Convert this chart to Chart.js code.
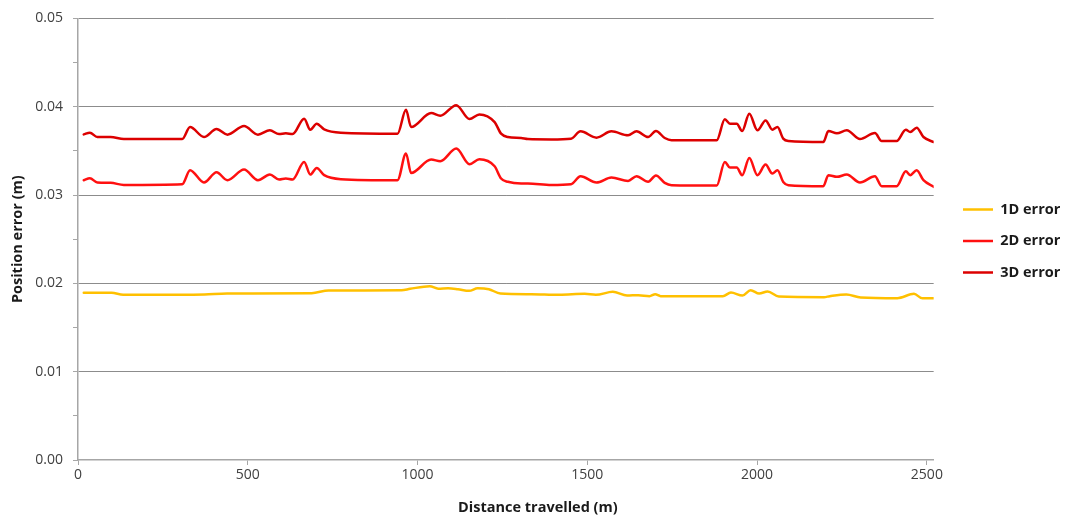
<!DOCTYPE html>
<html>
<head>
<meta charset="utf-8">
<script src="https://cdn.jsdelivr.net/npm/chart.js@4"></script>
<style>
  html, body { margin: 0; padding: 0; background: #ffffff; }
  #wrap { width: 1065px; height: 520px; }
</style>
</head>
<body>
<div id="wrap"><canvas id="c" width="1065" height="520"></canvas></div>
<script>
// ---- data ----
const seriesNames = ['1D error', '2D error', '3D error'];

const dist1D = [17, 99, 133, 307, 373, 439, 688, 738, 953, 978, 1036, 1061, 1090, 1119, 1152, 1177, 1210, 1244, 1335, 1418, 1492, 1525, 1575, 1617, 1650, 1683, 1700, 1716, 1899, 1923, 1957, 1981, 2006, 2031, 2064, 2197, 2214, 2263, 2305, 2413, 2462, 2487, 2520];
const err1D = [0.01893, 0.01893, 0.0187, 0.0187, 0.01874, 0.01885, 0.01889, 0.01919, 0.01922, 0.01938, 0.01968, 0.0194, 0.01945, 0.01934, 0.01915, 0.01945, 0.01934, 0.01885, 0.01877, 0.0187, 0.01881, 0.0187, 0.01904, 0.01862, 0.01866, 0.01855, 0.01877, 0.01855, 0.01855, 0.01896, 0.01862, 0.01923, 0.01885, 0.01908, 0.01851, 0.01844, 0.01855, 0.01874, 0.0184, 0.01832, 0.01881, 0.0183, 0.0183];

const dist2D3D = [17, 35, 57, 96, 135, 307, 330, 371, 408, 440, 489, 530, 565, 592, 612, 632, 666, 684, 703, 725, 774, 941, 966, 981, 1040, 1067, 1114, 1153, 1182, 1227, 1246, 1266, 1305, 1325, 1394, 1452, 1480, 1527, 1571, 1620, 1645, 1679, 1702, 1728, 1748, 1881, 1905, 1920, 1940, 1956, 1977, 2001, 2025, 2045, 2060, 2077, 2092, 2195, 2210, 2235, 2264, 2303, 2347, 2367, 2411, 2438, 2451, 2470, 2490, 2520];
const err2D = [0.03168, 0.03191, 0.03142, 0.03138, 0.03115, 0.03123, 0.03281, 0.03142, 0.03258, 0.03168, 0.03289, 0.03168, 0.03232, 0.03176, 0.03187, 0.03176, 0.03375, 0.03232, 0.03307, 0.03225, 0.0318, 0.03168, 0.0347, 0.0325, 0.03402, 0.03383, 0.03526, 0.03349, 0.03405, 0.03326, 0.03187, 0.0315, 0.03131, 0.03131, 0.03115, 0.03123, 0.03213, 0.03142, 0.03198, 0.0316, 0.03213, 0.0315, 0.03221, 0.03138, 0.03112, 0.03108, 0.03375, 0.03311, 0.03311, 0.03225, 0.0342, 0.03225, 0.03345, 0.03243, 0.03281, 0.03149, 0.03112, 0.031, 0.03225, 0.03206, 0.03232, 0.03142, 0.03213, 0.031, 0.031, 0.0327, 0.03225, 0.03281, 0.03168, 0.03093];
const err3D = [0.03687, 0.03706, 0.03657, 0.03657, 0.03634, 0.03634, 0.0377, 0.03657, 0.03747, 0.03684, 0.03781, 0.03684, 0.03733, 0.0369, 0.037, 0.0369, 0.03864, 0.0374, 0.03808, 0.03744, 0.03706, 0.03695, 0.03966, 0.0377, 0.03928, 0.03898, 0.04018, 0.0386, 0.03913, 0.03826, 0.03695, 0.03657, 0.03646, 0.03634, 0.0363, 0.03638, 0.03721, 0.0365, 0.03721, 0.03676, 0.03721, 0.03657, 0.03725, 0.03646, 0.0362, 0.0362, 0.03857, 0.03808, 0.03808, 0.03725, 0.03921, 0.03733, 0.03845, 0.0374, 0.0377, 0.03639, 0.03612, 0.036, 0.03725, 0.03699, 0.03733, 0.03634, 0.03702, 0.03612, 0.03612, 0.0374, 0.03713, 0.03763, 0.03657, 0.036];

const xTickValues = [0, 500, 1000, 1500, 2000, 2500];
const yTickValues = [0, 0.005, 0.01, 0.015, 0.02, 0.025, 0.03, 0.035, 0.04, 0.045, 0.05];
const yTickLabels = ['0.00', '', '0.01', '', '0.02', '', '0.03', '', '0.04', '', '0.05'];
const xTitle = 'Distance travelled (m)';
const yTitle = 'Position error (m)';

// ---- styling / layout ----
const FONT = "'Open Sans', 'DejaVu Sans', sans-serif";
Chart.defaults.font.family = FONT;
const toPts = (xs, ys) => xs.map((x, i) => ({ x: x, y: ys[i] }));
const LEGEND_LINE_X = 963;   // where the legend lines start
const LEGEND_Y_SHIFT = -28;  // legend block sits level with the plot centre
const X_TITLE_SHIFT = 32;    // the x title sits right of the plot centre in the reference

const shiftPlugin = {
  id: 'shiftPlugin',
  afterLayout(chart) {
    const lg = chart.legend;
    if (lg) {
      const d = LEGEND_LINE_X - (lg.left + lg.options.labels.padding);
      lg.left += d; lg.right += d;
      lg.top += LEGEND_Y_SHIFT; lg.bottom += LEGEND_Y_SHIFT;
    }
    const xs = chart.scales.x;
    if (xs && !xs._titleWrapped) {
      const orig = xs.drawTitle;
      xs.drawTitle = function () {
        this.ctx.save();
        this.ctx.translate(X_TITLE_SHIFT, 0);
        orig.apply(this, arguments);
        this.ctx.restore();
      };
      xs._titleWrapped = true;
    }
  }
};

new Chart(document.getElementById('c'), {
  type: 'line',
  data: {
    datasets: [
      { label: seriesNames[0], data: toPts(dist1D, err1D), borderColor: '#ffc000', backgroundColor: '#ffc000', borderWidth: 2.5 },
      { label: seriesNames[1], data: toPts(dist2D3D, err2D), borderColor: '#ff1010', backgroundColor: '#ff1010', borderWidth: 2.5 },
      { label: seriesNames[2], data: toPts(dist2D3D, err3D), borderColor: '#dc0000', backgroundColor: '#dc0000', borderWidth: 2.5 }
    ]
  },
  options: {
    responsive: false,
    animation: false,
    elements: {
      point: { radius: 0, hoverRadius: 0 },
      line: { cubicInterpolationMode: 'monotone', borderCapStyle: 'round', borderJoinStyle: 'round' }
    },
    layout: { padding: { top: 18, right: 7, bottom: 0, left: 0 } },
    plugins: {
      tooltip: { enabled: false },
      legend: {
        position: 'right',
        labels: {
          usePointStyle: true,
          pointStyle: 'line',
          pointStyleWidth: 30,
          padding: 17,
          color: '#1a1a1a',
          font: { family: FONT, size: 14.5, weight: 'bold' }
        }
      }
    },
    scales: {
      x: {
        type: 'linear',
        min: 0,
        max: 2520,
        afterBuildTicks: (s) => { s.ticks = xTickValues.map(v => ({ value: v })); },
        afterFit: (s) => { s.height = 60; },
        ticks: {
          autoSkip: false,
          maxRotation: 0,
          padding: 2,
          color: '#404040',
          font: { family: FONT, size: 14 },
          callback: (v) => String(v)
        },
        grid: { display: true, drawOnChartArea: false, drawTicks: true, tickLength: 5, tickColor: '#a6a6a6', tickWidth: 1 },
        border: { display: true, color: '#a6a6a6', width: 1.5 },
        title: { display: true, text: xTitle, color: '#1a1a1a', font: { family: FONT, size: 14.5, weight: 'bold' }, padding: { top: 4, bottom: 3 } }
      },
      y: {
        type: 'linear',
        min: 0,
        max: 0.05,
        afterBuildTicks: (s) => { s.ticks = yTickValues.map(v => ({ value: v })); },
        afterFit: (s) => { s.width = 78; },
        ticks: {
          autoSkip: false,
          padding: 10,
          color: '#404040',
          font: { family: FONT, size: 14 },
          callback: (v, i) => yTickLabels[i]
        },
        grid: {
          display: true,
          drawTicks: true,
          tickLength: 5,
          tickColor: '#a6a6a6',
          lineWidth: 1,
          color: (ctx) => (ctx.index > 0 && ctx.index % 2 === 0) ? '#8c8c8c' : 'rgba(0,0,0,0)'
        },
        border: { display: true, color: '#a6a6a6', width: 1.5 },
        title: { display: true, text: yTitle, color: '#1a1a1a', font: { family: FONT, size: 14.5, weight: 'bold' }, padding: { top: 9, bottom: 0 } }
      }
    }
  },
  plugins: [shiftPlugin]
});
</script>
</body>
</html>
